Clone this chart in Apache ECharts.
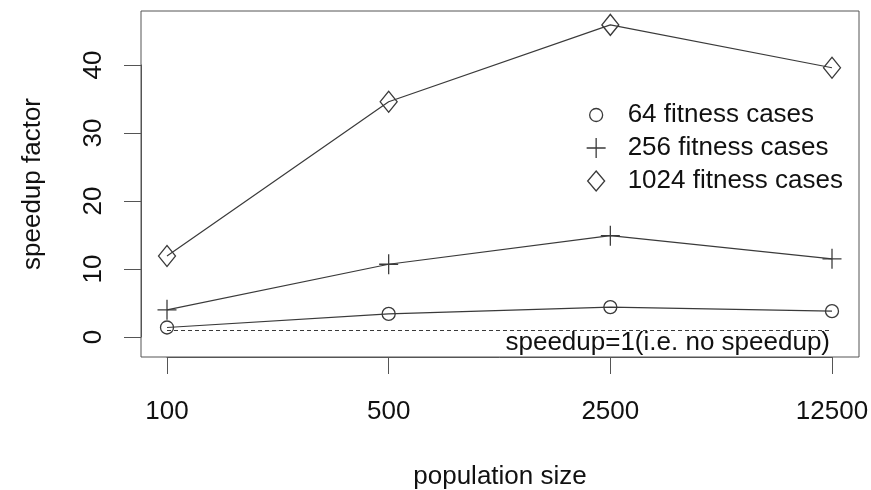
<!DOCTYPE html>
<html>
<head>
<meta charset="utf-8">
<script src="https://cdn.jsdelivr.net/npm/echarts@6/dist/echarts.min.js"></script>
<style>
  html, body { margin: 0; padding: 0; background: #fff; }
  #chart { width: 871px; height: 490px; }
</style>
</head>
<body>
<div id="chart"></div>
<script>
// ---- data ----
var categories = ['100', '500', '2500', '12500'];
var cases64 = [1.4, 3.4, 4.4, 3.8];
var cases256 = [4.0, 10.7, 14.9, 11.5];
var cases1024 = [11.9, 34.6, 45.9, 39.6];
var seriesNames = ['64 fitness cases', '256 fitness cases', '1024 fitness cases'];
var yTicks = [0, 10, 20, 30, 40];
var baselineValue = 1;
var baselineLabel = 'speedup=1(i.e. no speedup)';
var xTitle = 'population size';
var yTitle = 'speedup factor';

// ---- styling ----
var FONT = "'Liberation Sans', Arial, Helvetica, sans-serif";
var AXIS = '#555';
var LINE = '#3a3a3a';
var TXT = '#111';
var FS = 26;

var plusPath = 'path://M0,10H19M9.5,0V20';
var legendCircle = 'path://M0,0M19,21M3,10.5A6.5,6.5 0 1 0 16,10.5A6.5,6.5 0 1 0 3,10.5Z';
var legendPlus = 'path://M0,0M19,21M0,10.5H19M9.5,0.5V20.5';
var legendDiamond = 'path://M0,0M19,21M9.5,0.5L18,10.5L9.5,20.5L1,10.5Z';

var markerStyle = { color: 'transparent', borderColor: LINE, borderWidth: 1.3 };

var chart = echarts.init(document.getElementById('chart'), null, { renderer: 'canvas' });

var option = {
  animation: false,
  backgroundColor: '#fff',
  textStyle: { fontFamily: FONT },
  grid: [
    { // plot box
      left: 141, right: 12, top: 11, bottom: 133,
      outerBoundsMode: 'none', containLabel: false,
      show: true, borderColor: AXIS, borderWidth: 1, backgroundColor: 'transparent'
    },
    { // data area: y from 0..40, x from first to last category
      left: 167, right: 39, top: 65, bottom: 153,
      outerBoundsMode: 'none', containLabel: false
    }
  ],
  xAxis: [
    {
      gridIndex: 0, type: 'value', min: 0, max: 1,
      axisLine: { show: false }, axisTick: { show: false }, axisLabel: { show: false }, splitLine: { show: false },
      name: xTitle, nameLocation: 'middle', nameGap: 107,
      nameTextStyle: { fontSize: FS, color: TXT, fontFamily: FONT }
    },
    {
      gridIndex: 1, type: 'category', data: categories, boundaryGap: false,
      position: 'bottom', offset: 20,
      axisLine: { show: true, onZero: false, lineStyle: { color: AXIS, width: 1 } },
      axisTick: { show: true, length: 17, lineStyle: { color: AXIS, width: 1 } },
      axisLabel: { fontSize: FS, color: TXT, margin: 42, fontFamily: FONT },
      splitLine: { show: false }
    }
  ],
  yAxis: [
    {
      gridIndex: 0, type: 'value', min: 0, max: 1,
      axisLine: { show: false }, axisTick: { show: false }, axisLabel: { show: false }, splitLine: { show: false },
      name: yTitle, nameLocation: 'middle', nameGap: 95, nameRotate: 90,
      nameTextStyle: { fontSize: FS, color: TXT, fontFamily: FONT }
    },
    {
      gridIndex: 1, type: 'value', min: yTicks[0], max: yTicks[yTicks.length - 1], interval: 10,
      position: 'left', offset: 26,
      axisLine: { show: true, onZero: false, lineStyle: { color: AXIS, width: 1 } },
      axisTick: { show: true, length: 17, lineStyle: { color: AXIS, width: 1 } },
      axisLabel: { fontSize: FS, color: TXT, margin: 34, rotate: 90, fontFamily: FONT },
      splitLine: { show: false }
    }
  ],
  legend: {
    orient: 'vertical',
    left: 581, top: 97,
    itemWidth: 19, itemHeight: 21, itemGap: 7,
    symbolKeepAspect: true,
    selectedMode: false,
    textStyle: { fontSize: FS, color: TXT, fontFamily: FONT, padding: [0, 0, 0, 17] },
    data: [
      { name: seriesNames[0], icon: legendCircle, itemStyle: markerStyle },
      { name: seriesNames[1], icon: legendPlus, itemStyle: markerStyle },
      { name: seriesNames[2], icon: legendDiamond, itemStyle: markerStyle }
    ]
  },
  series: [
    {
      name: seriesNames[0], type: 'line', xAxisIndex: 1, yAxisIndex: 1,
      data: cases64, clip: false,
      symbol: 'circle', symbolSize: 13, showAllSymbol: true,
      itemStyle: markerStyle,
      lineStyle: { color: LINE, width: 1.2 },
      emphasis: { disabled: true },
      markLine: {
        silent: true, symbol: 'none', animation: false,
        lineStyle: { color: LINE, type: [4, 3], width: 1 },
        label: {
          show: true, position: 'insideEndBottom', formatter: baselineLabel,
          fontSize: FS, color: TXT, fontFamily: FONT, distance: 0, padding: [0, 2, 0, 0]
        },
        emphasis: { disabled: true },
        data: [[
          { coord: [categories[0], baselineValue] },
          { coord: [categories[categories.length - 1], baselineValue] }
        ]]
      }
    },
    {
      name: seriesNames[1], type: 'line', xAxisIndex: 1, yAxisIndex: 1,
      data: cases256, clip: false,
      symbol: plusPath, symbolSize: [19, 20], symbolKeepAspect: false,
      itemStyle: markerStyle,
      lineStyle: { color: LINE, width: 1.2 },
      emphasis: { disabled: true }
    },
    {
      name: seriesNames[2], type: 'line', xAxisIndex: 1, yAxisIndex: 1,
      data: cases1024, clip: false,
      symbol: 'diamond', symbolSize: [17, 21],
      itemStyle: markerStyle,
      lineStyle: { color: LINE, width: 1.2 },
      emphasis: { disabled: true }
    }
  ]
};

chart.setOption(option);
</script>
</body>
</html>
